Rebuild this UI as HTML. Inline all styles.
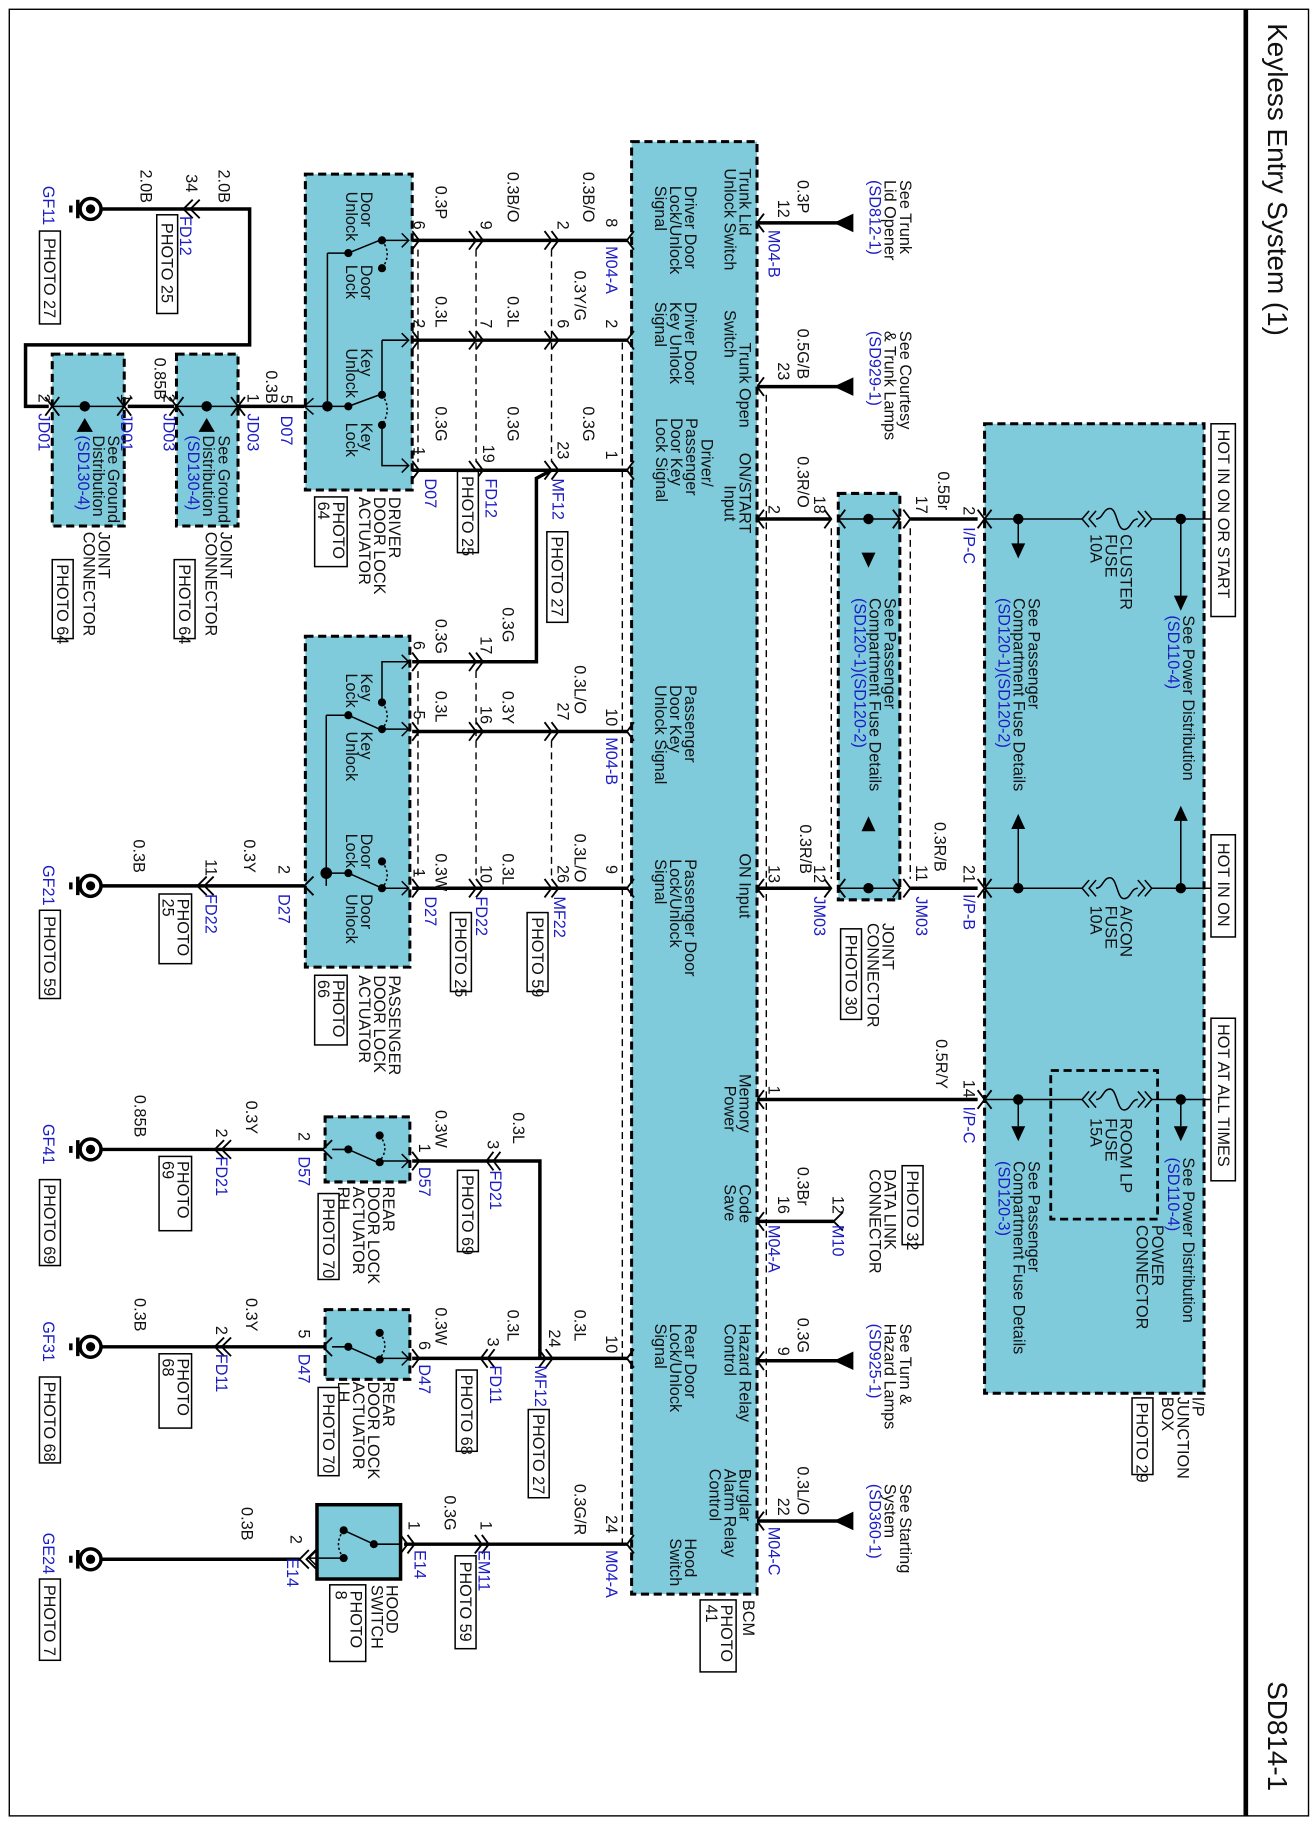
<!DOCTYPE html>
<html><head><meta charset="utf-8"><style>
html,body{margin:0;padding:0;background:#fff}
svg{display:block}
text{font-family:"Liberation Sans",Arial,sans-serif;font-size:14px;fill:#111}
.b{fill:#1c1cc4}
.w{stroke:#000;stroke-width:3;fill:none}
.n{stroke:#000;stroke-width:1.3;fill:none}
.d{stroke:#000;stroke-width:1.2;fill:none;stroke-dasharray:6,4}
.box{fill:#7fcbdc;stroke:#000;stroke-width:2.6;stroke-dasharray:7,4}
.pb{fill:#fff;stroke:#000;stroke-width:1.3}
.ch{stroke:#000;stroke-width:1.6;fill:none}
</style></head><body>
<svg width="1312" height="1824" viewBox="0 0 1130 1571" preserveAspectRatio="none" xmlns="http://www.w3.org/2000/svg">
<rect x="0" y="0" width="1130" height="1571" fill="#fff"/>
<rect x="8" y="8" width="1119" height="1556" fill="none" stroke="#000" stroke-width="1.2"/>
<line x1="1073" y1="8" x2="1073" y2="1564" stroke="#000" stroke-width="4"/>
<text style="font-size:24px" transform="translate(1092,20) rotate(90)">Keyless Entry System (1)</text>
<text style="font-size:24px" transform="translate(1092,1448) rotate(90)">SD814-1</text>

<!-- HOT labels -->
<rect class="pb" x="1043" y="365" width="21" height="166"/>
<text transform="translate(1049,370) rotate(90)">HOT IN ON OR START</text>
<rect class="pb" x="1043" y="719" width="21" height="88"/>
<text transform="translate(1049,726) rotate(90)">HOT IN ON</text>
<rect class="pb" x="1043" y="877" width="21" height="140"/>
<text transform="translate(1049,882) rotate(90)">HOT AT ALL TIMES</text>

<!-- Junction box -->
<rect class="box" x="848" y="365" width="189" height="835"/>
<rect x="905" y="922" width="92" height="128" fill="none" stroke="#000" stroke-width="2.4" stroke-dasharray="7,4"/>
<text transform="translate(1027,1203) rotate(90)">I/P<tspan x="0" dy="13">JUNCTION</tspan><tspan x="0" dy="13">BOX</tspan></text>
<rect class="pb" x="975" y="1204" width="18" height="66"/>
<text transform="translate(979,1208) rotate(90)">PHOTO 29</text>

<!-- rows inside junction -->
<g class="n">
<path d="M848,447H932M992,447H1043"/>
<path d="M848,765H932M992,765H1043"/>
<path d="M848,947H932M992,947H1043"/>
<path d="M938,440L932,447L938,454M944,440L938,447L944,454M986,440L992,447L986,454M980,440L986,447L980,454"/>
<path d="M944,447c6,0 6,-9 12,-9s6,18 12,18s6,-9 12,-9"/>
<path d="M938,758L932,765L938,772M944,758L938,765L944,772M986,758L992,765L986,772M980,758L986,765L980,772"/>
<path d="M944,765c6,0 6,-9 12,-9s6,18 12,18s6,-9 12,-9"/>
<path d="M938,940L932,947L938,954M944,940L938,947L944,954M986,940L992,947L986,954M980,940L986,947L980,954"/>
<path d="M944,947c6,0 6,-9 12,-9s6,18 12,18s6,-9 12,-9"/>
<path d="M877,447V470M1017,447V515M877,765V712M1017,765V705M877,947V970M1017,947V970"/>
<path d="M748,447V478M748,765V714"/>
</g>
<g fill="#000">
<circle cx="877" cy="447" r="4.5"/><circle cx="1017" cy="447" r="4.5"/>
<circle cx="877" cy="765" r="4.5"/><circle cx="1017" cy="765" r="4.5"/>
<circle cx="877" cy="947" r="4.5"/><circle cx="1017" cy="947" r="4.5"/>
<polygon points="871,468 883,468 877,481"/><polygon points="1011,513 1023,513 1017,526"/>
<polygon points="871,714 883,714 877,701"/><polygon points="1011,707 1023,707 1017,694"/>
<polygon points="871,970 883,970 877,983"/><polygon points="1011,970 1023,970 1017,983"/>
</g>
<text transform="translate(965,460) rotate(90)">CLUSTER<tspan x="0" dy="13">FUSE</tspan><tspan x="0" dy="13">10A</tspan></text>
<text transform="translate(965,780) rotate(90)">A/CON<tspan x="0" dy="13">FUSE</tspan><tspan x="0" dy="13">10A</tspan></text>
<text transform="translate(965,963) rotate(90)">ROOM LP<tspan x="0" dy="13">FUSE</tspan><tspan x="0" dy="13">15A</tspan></text>
<text transform="translate(1019,530) rotate(90)">See Power Distribution<tspan x="0" dy="13" class="b">(SD110-4)</tspan></text>
<text transform="translate(886,515) rotate(90)">See Passenger<tspan x="0" dy="13">Compartment Fuse Details</tspan><tspan x="0" dy="13" class="b">(SD120-1)(SD120-2)</tspan></text>
<text transform="translate(1019,997) rotate(90)">See Power Distribution<tspan x="0" dy="13" class="b">(SD110-4)</tspan></text>
<text transform="translate(886,1000) rotate(90)">See Passenger<tspan x="0" dy="13">Compartment Fuse Details</tspan><tspan x="0" dy="13" class="b">(SD120-3)</tspan></text>
<text transform="translate(992,1055) rotate(90)">POWER<tspan x="0" dy="13">CONNECTOR</tspan></text>

<!-- Joint connector JM -->
<rect class="box" x="722" y="425" width="53" height="350"/>
<g fill="#000"><circle cx="748" cy="447" r="4.5"/><circle cx="748" cy="765" r="4.5"/>
<polygon points="742,476 754,476 748,489"/><polygon points="742,716 754,716 748,703"/></g>
<text transform="translate(762,515) rotate(90)">See Passenger<tspan x="0" dy="13">Compartment Fuse Details</tspan><tspan x="0" dy="13" class="b">(SD120-1)(SD120-2)</tspan></text>
<path class="d" d="M716,455V757M784,455V757"/>
<text transform="translate(760,795) rotate(90)">JOINT<tspan x="0" dy="13">CONNECTOR</tspan></text>
<rect class="pb" x="724" y="800" width="18" height="78"/>
<text transform="translate(728,805) rotate(90)">PHOTO 30</text>

<!-- right-side wires of BCM -->
<g class="w">
<path d="M652,192H722M652,333H722M652,447H716M652,765H716M652,947H842M652,1052H718M652,1172H722M652,1310H722"/>
<path d="M784,447H842M784,765H842"/>
</g>
<g class="n"><path d="M722,447H775M722,765H775"/></g>
<g class="ch">
<path d="M658,184L652,192L658,200M658,325L652,333L658,341M658,439L652,447L658,455M658,757L652,765L658,773M658,939L652,947L658,955M658,1044L652,1052L658,1060M658,1164L652,1172L658,1180M658,1302L652,1310L658,1318"/>
<path d="M710,439L716,447L710,455M728,439L722,447L728,455M769,439L775,447L769,455M778,439L784,447L778,455"/>
<path d="M710,757L716,765L710,773M728,757L722,765L728,773M769,757L775,765L769,773M778,757L784,765L778,773"/>
<path d="M854,439L848,447L854,455M842,439L848,447L842,455M854,757L848,765L854,773M842,757L848,765L842,773M854,939L848,947L854,955M842,939L848,947L842,955"/>
<path d="M726,1044L718,1052L726,1060"/>
</g>
<g fill="#000">
<polygon points="718,192 735,184 735,200"/><polygon points="718,333 735,325 735,341"/>
<polygon points="718,1172 735,1164 735,1180"/><polygon points="718,1310 735,1302 735,1318"/>
</g>
<text transform="translate(687,155) rotate(90)">0.3P</text>
<text transform="translate(670,172) rotate(90)">12</text>
<text class="b" transform="translate(662,198) rotate(90)">M04-B</text>
<text transform="translate(775,155) rotate(90)">See Trunk<tspan x="0" dy="13">Lid Opener</tspan><tspan x="0" dy="13" class="b">(SD812-1)</tspan></text>
<text transform="translate(687,283) rotate(90)">0.5G/B</text>
<text transform="translate(670,312) rotate(90)">23</text>
<text transform="translate(775,285) rotate(90)">See Courtesy<tspan x="0" dy="13">&amp; Trunk Lamps</tspan><tspan x="0" dy="13" class="b">(SD929-1)</tspan></text>
<text transform="translate(662,435) rotate(90)">2</text>
<text transform="translate(687,393) rotate(90)">0.3R/O</text>
<text transform="translate(701,427) rotate(90)">18</text>
<text transform="translate(789,427) rotate(90)">17</text>
<text transform="translate(808,406) rotate(90)">0.5Br</text>
<text transform="translate(830,436) rotate(90)">2</text>
<text class="b" transform="translate(830,454) rotate(90)">I/P-C</text>
<text transform="translate(662,745) rotate(90)">13</text>
<text transform="translate(689,710) rotate(90)">0.3R/B</text>
<text transform="translate(701,745) rotate(90)">12</text>
<text class="b" transform="translate(701,772) rotate(90)">JM03</text>
<text transform="translate(789,745) rotate(90)">11</text>
<text transform="translate(805,708) rotate(90)">0.3R/B</text>
<text class="b" transform="translate(789,772) rotate(90)">JM03</text>
<text transform="translate(830,745) rotate(90)">21</text>
<text class="b" transform="translate(830,770) rotate(90)">I/P-B</text>
<text transform="translate(662,935) rotate(90)">1</text>
<text transform="translate(806,895) rotate(90)">0.5R/Y</text>
<text transform="translate(830,930) rotate(90)">14</text>
<text class="b" transform="translate(830,953) rotate(90)">I/P-C</text>
<text transform="translate(687,1005) rotate(90)">0.3Br</text>
<text transform="translate(670,1030) rotate(90)">16</text>
<text class="b" transform="translate(662,1055) rotate(90)">M04-A</text>
<text transform="translate(717,1030) rotate(90)">12</text>
<text class="b" transform="translate(717,1055) rotate(90)">M10</text>
<rect class="pb" x="777" y="1004" width="18" height="68"/>
<text transform="translate(781,1008) rotate(90)">PHOTO 32</text>
<text transform="translate(762,1007) rotate(90)">DATA LINK<tspan x="0" dy="13">CONNECTOR</tspan></text>
<text transform="translate(687,1135) rotate(90)">0.3G</text>
<text transform="translate(670,1160) rotate(90)">9</text>
<text transform="translate(775,1140) rotate(90)">See Turn &amp;<tspan x="0" dy="13">Hazard Lamps</tspan><tspan x="0" dy="13" class="b">(SD925-1)</tspan></text>
<text transform="translate(687,1263) rotate(90)">0.3L/O</text>
<text transform="translate(670,1290) rotate(90)">22</text>
<text class="b" transform="translate(662,1315) rotate(90)">M04-C</text>
<text transform="translate(775,1278) rotate(90)">See Starting<tspan x="0" dy="13">System</tspan><tspan x="0" dy="13" class="b">(SD360-1)</tspan></text>

<!-- BCM -->
<path class="d" d="M660,340V1305M536,295V1330"/>
<rect class="box" x="544" y="122" width="108" height="1251"/>
<text transform="translate(637,145) rotate(90)">Trunk Lid<tspan x="0" dy="13">Unlock Switch</tspan></text>
<text transform="translate(637,295) rotate(90)">Trunk Open<tspan x="-28" dy="13">Switch</tspan></text>
<text transform="translate(637,390) rotate(90)">ON/START<tspan x="28" dy="13">Input</tspan></text>
<text transform="translate(637,735) rotate(90)">ON Input</text>
<text transform="translate(637,925) rotate(90)">Memory<tspan x="10" dy="13">Power</tspan></text>
<text transform="translate(637,1020) rotate(90)">Code<tspan x="0" dy="13">Save</tspan></text>
<text transform="translate(637,1140) rotate(90)">Hazard Relay<tspan x="0" dy="13">Control</tspan></text>
<text transform="translate(637,1265) rotate(90)">Burglar<tspan x="0" dy="13">Alarm Relay</tspan><tspan x="0" dy="13">Control</tspan></text>
<text transform="translate(590,160) rotate(90)">Driver Door<tspan x="0" dy="13">Lock/Unlock</tspan><tspan x="0" dy="13">Signal</tspan></text>
<text transform="translate(590,260) rotate(90)">Driver Door<tspan x="0" dy="13">Key Unlock</tspan><tspan x="0" dy="13">Signal</tspan></text>
<text transform="translate(604,378) rotate(90)">Driver/<tspan x="-18" dy="13">Passenger</tspan><tspan x="-18" dy="13">Door Key</tspan><tspan x="-18" dy="13">Lock Signal</tspan></text>
<text transform="translate(590,590) rotate(90)">Passenger<tspan x="0" dy="13">Door Key</tspan><tspan x="0" dy="13">Unlock Signal</tspan></text>
<text transform="translate(590,740) rotate(90)">Passenger Door<tspan x="0" dy="13">Lock/Unlock</tspan><tspan x="0" dy="13">Signal</tspan></text>
<text transform="translate(590,1140) rotate(90)">Rear Door<tspan x="0" dy="13">Lock/Unlock</tspan><tspan x="0" dy="13">Signal</tspan></text>
<text transform="translate(590,1325) rotate(90)">Hood<tspan x="0" dy="13">Switch</tspan></text>
<text transform="translate(640,1378) rotate(90)">BCM</text>
<rect class="pb" x="603" y="1378" width="31" height="62"/>
<text transform="translate(621,1382) rotate(90)">PHOTO<tspan x="0" dy="13">41</tspan></text>

<!-- left wires of BCM -->
<g class="w">
<path d="M355,207H540M355,293H540M355,405H540"/>
<path d="M475,405L462,412V570H413"/>
<path d="M355,570H413M355,630H540M355,765H540"/>
<path d="M355,1000H425M425,1000H465V1170H470M355,1170H540M348,1330H540"/>
</g>
<path class="d" d="M410,215V398M475,215V398M360,215V398M410,578V758M475,638V758M360,578V758"/>
<g class="ch">
<path d="M546,199L540,207L546,215M546,285L540,293L546,301M546,397L540,405L546,413M546,622L540,630L546,638M546,757L540,765L546,773M546,1162L540,1170L546,1178M546,1322L540,1330L546,1338"/>
<path d="M469,199L475,207L469,215M475,199L481,207L475,215M404,199L410,207L404,215M410,199L416,207L410,215M355,199L361,207L355,215"/>
<path d="M469,285L475,293L469,301M475,285L481,293L475,301M404,285L410,293L404,301M410,285L416,293L410,301M355,285L361,293L355,301"/>
<path d="M469,397L475,405L469,413M475,397L481,405L475,413M404,397L410,405L404,413M410,397L416,405L410,413M355,397L361,405L355,413"/>
<path d="M404,562L410,570L404,578M410,562L416,570L410,578M355,562L361,570L355,578"/>
<path d="M469,622L475,630L469,638M475,622L481,630L475,638M404,622L410,630L404,638M410,622L416,630L410,638M355,622L361,630L355,638"/>
<path d="M469,757L475,765L469,773M475,757L481,765L475,773M404,757L410,765L404,773M410,757L416,765L410,773M355,757L361,765L355,773"/>
<path d="M355,992L361,1000L355,1008M431,992L425,1000L431,1008M425,992L419,1000L425,1008"/>
<path d="M355,1162L361,1170L355,1178M426,1162L420,1170L426,1178M420,1162L414,1170L420,1178M464,1162L470,1170L464,1178M470,1162L476,1170L470,1178"/>
<path d="M345,1322L351,1330L345,1338M351,1322L357,1330L351,1338M409,1322L415,1330L409,1338M415,1322L421,1330L415,1338"/>
</g>
<text transform="translate(522,188) rotate(90)">8</text>
<text class="b" transform="translate(522,212) rotate(90)">M04-A</text>
<text transform="translate(502,148) rotate(90)">0.3B/O</text>
<text transform="translate(480,190) rotate(90)">2</text>
<text transform="translate(437,148) rotate(90)">0.3B/O</text>
<text transform="translate(414,190) rotate(90)">9</text>
<text transform="translate(375,160) rotate(90)">0.3P</text>
<text transform="translate(356,190) rotate(90)">6</text>
<text transform="translate(522,275) rotate(90)">2</text>
<text transform="translate(495,233) rotate(90)">0.3Y/G</text>
<text transform="translate(480,275) rotate(90)">6</text>
<text transform="translate(437,255) rotate(90)">0.3L</text>
<text transform="translate(414,275) rotate(90)">7</text>
<text transform="translate(375,255) rotate(90)">0.3L</text>
<text transform="translate(356,275) rotate(90)">2</text>
<text transform="translate(522,388) rotate(90)">1</text>
<text transform="translate(502,350) rotate(90)">0.3G</text>
<text transform="translate(480,380) rotate(90)">23</text>
<text class="b" transform="translate(476,412) rotate(90)">MF12</text>
<rect class="pb" x="471" y="458" width="18" height="78"/>
<text transform="translate(475,462) rotate(90)">PHOTO 27</text>
<text transform="translate(437,350) rotate(90)">0.3G</text>
<text transform="translate(416,383) rotate(90)">19</text>
<text class="b" transform="translate(418,412) rotate(90)">FD12</text>
<rect class="pb" x="394" y="406" width="18" height="70"/>
<text transform="translate(398,410) rotate(90)">PHOTO 25</text>
<text transform="translate(375,350) rotate(90)">0.3G</text>
<text transform="translate(356,385) rotate(90)">1</text>
<text class="b" transform="translate(366,412) rotate(90)">D07</text>
<text transform="translate(433,523) rotate(90)">0.3G</text>
<text transform="translate(414,548) rotate(90)">17</text>
<text transform="translate(375,533) rotate(90)">0.3G</text>
<text transform="translate(356,552) rotate(90)">6</text>
<text transform="translate(522,610) rotate(90)">10</text>
<text class="b" transform="translate(522,635) rotate(90)">M04-B</text>
<text transform="translate(495,573) rotate(90)">0.3L/O</text>
<text transform="translate(480,605) rotate(90)">27</text>
<text transform="translate(433,595) rotate(90)">0.3Y</text>
<text transform="translate(414,608) rotate(90)">16</text>
<text transform="translate(375,595) rotate(90)">0.3L</text>
<text transform="translate(356,612) rotate(90)">5</text>
<text transform="translate(522,745) rotate(90)">9</text>
<text transform="translate(495,718) rotate(90)">0.3L/O</text>
<text transform="translate(480,745) rotate(90)">26</text>
<text class="b" transform="translate(477,772) rotate(90)">MF22</text>
<rect class="pb" x="454" y="786" width="18" height="68"/>
<text transform="translate(458,790) rotate(90)">PHOTO 59</text>
<text transform="translate(433,735) rotate(90)">0.3L</text>
<text transform="translate(414,745) rotate(90)">10</text>
<text class="b" transform="translate(410,772) rotate(90)">FD22</text>
<rect class="pb" x="388" y="786" width="18" height="68"/>
<text transform="translate(392,790) rotate(90)">PHOTO 25</text>
<text transform="translate(375,735) rotate(90)">0.3W</text>
<text transform="translate(356,748) rotate(90)">1</text>
<text class="b" transform="translate(366,772) rotate(90)">D27</text>

<!-- Driver door lock actuator -->
<rect class="box" x="263" y="150" width="92" height="272"/>
<g class="n">
<path d="M282,218V350M282,218H300M300,218L327,207M329,207H352M346,201L352,207L346,213"/>
<path d="M300,350L327,340M329,293V340M329,293H352M346,287L352,293L346,299M329,366V401H352M346,395L352,401L346,407"/>
<path d="M329,207q9,12 0,24M329,340q9,12 0,26" stroke-dasharray="2,2"/>
<path d="M262,350H300M270,343L262,350L270,357"/>
</g>
<g fill="#000"><circle cx="300" cy="218" r="3.5"/><circle cx="329" cy="207" r="3.5"/><circle cx="329" cy="231" r="3.5"/>
<circle cx="282" cy="350" r="4.5"/><circle cx="300" cy="350" r="3.5"/><circle cx="329" cy="340" r="3.5"/><circle cx="329" cy="366" r="3.5"/></g>
<text transform="translate(311,165) rotate(90)">Door<tspan x="0" dy="13">Unlock</tspan></text>
<text transform="translate(311,228) rotate(90)">Door<tspan x="0" dy="13">Lock</tspan></text>
<text transform="translate(311,300) rotate(90)">Key<tspan x="0" dy="13">Unlock</tspan></text>
<text transform="translate(311,364) rotate(90)">Key<tspan x="0" dy="13">Lock</tspan></text>
<text transform="translate(335,428) rotate(90)">DRIVER<tspan x="0" dy="13">DOOR LOCK</tspan><tspan x="0" dy="13">ACTUATOR</tspan></text>
<rect class="pb" x="271" y="428" width="28" height="60"/>
<text transform="translate(287,432) rotate(90)">PHOTO<tspan x="0" dy="13">64</tspan></text>

<!-- Joint connectors JD03/JD01 and ground GF11 -->
<g class="w"><path d="M262,350H205M150,350H110M42,350H22V297H215V180H160M160,180H87"/></g>
<rect class="box" x="152" y="305" width="53" height="148"/>
<rect class="box" x="45" y="305" width="62" height="148"/>
<g class="n"><path d="M152,350H205M45,350H107"/></g>
<g class="ch"><path d="M211,342L205,350L211,358M158,342L152,350L158,358M146,342L152,350L146,358M199,342L205,350L199,358M113,342L107,350L113,358M51,342L45,350L51,358M39,342L45,350L39,358M101,342L107,350L101,358"/>
<path d="M166,172L158,180L166,188M172,172L164,180L172,188"/></g>
<g fill="#000"><circle cx="178" cy="350" r="4.5"/><polygon points="178,360 171,372 185,372"/><circle cx="73" cy="350" r="4.5"/><polygon points="73,360 66,372 80,372"/></g>
<text transform="translate(188,375) rotate(90)">See Ground<tspan x="0" dy="13">Distribution</tspan><tspan x="0" dy="13" class="b">(SD130-4)</tspan></text>
<text transform="translate(93,375) rotate(90)">See Ground<tspan x="0" dy="13">Distribution</tspan><tspan x="0" dy="13" class="b">(SD130-4)</tspan></text>
<text transform="translate(229,319) rotate(90)">0.3B</text>
<text transform="translate(213,339) rotate(90)">1</text>
<text class="b" transform="translate(213,356) rotate(90)">JD03</text>
<text transform="translate(242,340) rotate(90)">5</text>
<text class="b" transform="translate(242,358) rotate(90)">D07</text>
<text transform="translate(141,339) rotate(90)">2</text>
<text class="b" transform="translate(141,356) rotate(90)">JD03</text>
<text transform="translate(133,308) rotate(90)">0.85B</text>
<text transform="translate(104,339) rotate(90)">1</text>
<text class="b" transform="translate(104,356) rotate(90)">JD01</text>
<text transform="translate(33,339) rotate(90)">2</text>
<text class="b" transform="translate(33,356) rotate(90)">JD01</text>
<text transform="translate(190,458) rotate(90)">JOINT<tspan x="0" dy="13">CONNECTOR</tspan></text>
<rect class="pb" x="150" y="482" width="18" height="68"/>
<text transform="translate(154,486) rotate(90)">PHOTO 64</text>
<text transform="translate(85,458) rotate(90)">JOINT<tspan x="0" dy="13">CONNECTOR</tspan></text>
<rect class="pb" x="45" y="482" width="18" height="68"/>
<text transform="translate(49,486) rotate(90)">PHOTO 64</text>

<!-- ground symbols -->
<g>
<circle cx="78" cy="180" r="9" fill="#fff" stroke="#000" stroke-width="3"/><circle cx="78" cy="180" r="4" fill="#000"/>
<circle cx="78" cy="763" r="9" fill="#fff" stroke="#000" stroke-width="3"/><circle cx="78" cy="763" r="4" fill="#000"/>
<circle cx="78" cy="990" r="9" fill="#fff" stroke="#000" stroke-width="3"/><circle cx="78" cy="990" r="4" fill="#000"/>
<circle cx="78" cy="1160" r="9" fill="#fff" stroke="#000" stroke-width="3"/><circle cx="78" cy="1160" r="4" fill="#000"/>
<circle cx="78" cy="1343" r="9" fill="#fff" stroke="#000" stroke-width="3"/><circle cx="78" cy="1343" r="4" fill="#000"/>
<path stroke="#000" stroke-width="3" d="M67,172V188M61,177V183M67,755V771M61,760V766M67,982V998M61,987V993M67,1152V1168M61,1157V1163M67,1335V1351M61,1340V1346"/>
</g>
<text transform="translate(121,146) rotate(90)">2.0B</text>
<text transform="translate(160,150) rotate(90)">34</text>
<text transform="translate(188,146) rotate(90)">2.0B</text>
<text class="b" transform="translate(155,186) rotate(90)">FD12</text>
<rect class="pb" x="135" y="185" width="18" height="85"/>
<text transform="translate(139,192) rotate(90)">PHOTO 25</text>
<text class="b" transform="translate(37,160) rotate(90)">GF11</text>
<rect class="pb" x="34" y="199" width="18" height="80"/>
<text transform="translate(38,205) rotate(90)">PHOTO 27</text>

<!-- Passenger actuator -->
<rect class="box" x="263" y="548" width="90" height="285"/>
<g class="n">
<path d="M281,616V763M281,616H300M300,616L327,628M329,605V570H352M346,564L352,570L346,576M329,628H352M346,622L352,628L346,634"/>
<path d="M281,752H300M300,752L327,764M329,765H352M346,759L352,765L346,771"/>
<path d="M329,605q9,12 0,23M329,742q9,12 0,23" stroke-dasharray="2,2"/>
</g>
<g fill="#000"><circle cx="300" cy="616" r="3.5"/><circle cx="329" cy="605" r="3.5"/><circle cx="329" cy="628" r="3.5"/>
<circle cx="281" cy="752" r="5"/><circle cx="300" cy="752" r="3.5"/><circle cx="329" cy="742" r="3.5"/><circle cx="329" cy="765" r="3.5"/></g>
<text transform="translate(311,580) rotate(90)">Key<tspan x="0" dy="13">Lock</tspan></text>
<text transform="translate(311,630) rotate(90)">Key<tspan x="0" dy="13">Unlock</tspan></text>
<text transform="translate(311,718) rotate(90)">Door<tspan x="0" dy="13">Lock</tspan></text>
<text transform="translate(311,770) rotate(90)">Door<tspan x="0" dy="13">Unlock</tspan></text>
<text transform="translate(335,840) rotate(90)">PASSENGER<tspan x="0" dy="13">DOOR LOCK</tspan><tspan x="0" dy="13">ACTUATOR</tspan></text>
<rect class="pb" x="271" y="840" width="28" height="60"/>
<text transform="translate(287,844) rotate(90)">PHOTO<tspan x="0" dy="13">66</tspan></text>
<g class="w"><path d="M262,763H87"/></g>
<g class="ch"><path d="M270,755L262,763L270,771M178,755L170,763L178,771M184,755L176,763L184,771"/></g>
<text transform="translate(240,745) rotate(90)">2</text>
<text class="b" transform="translate(240,770) rotate(90)">D27</text>
<text transform="translate(210,723) rotate(90)">0.3Y</text>
<text transform="translate(177,740) rotate(90)">11</text>
<text class="b" transform="translate(177,770) rotate(90)">FD22</text>
<rect class="pb" x="137" y="770" width="28" height="60"/>
<text transform="translate(153,774) rotate(90)">PHOTO<tspan x="0" dy="13">25</tspan></text>
<text transform="translate(115,723) rotate(90)">0.3B</text>
<text class="b" transform="translate(37,745) rotate(90)">GF21</text>
<rect class="pb" x="34" y="784" width="18" height="76"/>
<text transform="translate(38,789) rotate(90)">PHOTO 59</text>

<!-- Rear RH -->
<rect class="box" x="280" y="962" width="73" height="56"/>
<g class="n"><path d="M286,990H300M300,990L327,1002M327,1000H352M346,994L352,1000L346,1006"/></g>
<path class="n" d="M327,978q9,11 0,22" stroke-dasharray="2,2"/>
<g fill="#000"><circle cx="300" cy="990" r="3.5"/><circle cx="327" cy="978" r="3.5"/><circle cx="327" cy="1001" r="3.5"/></g>
<g class="w"><path d="M278,990H87"/></g>
<g class="ch"><path d="M286,982L278,990L286,998M193,982L185,990L193,998M199,982L191,990L199,998"/></g>
<text transform="translate(257,975) rotate(90)">2</text>
<text class="b" transform="translate(257,996) rotate(90)">D57</text>
<text transform="translate(212,948) rotate(90)">0.3Y</text>
<text transform="translate(186,972) rotate(90)">2</text>
<text class="b" transform="translate(186,996) rotate(90)">FD21</text>
<rect class="pb" x="137" y="996" width="28" height="64"/>
<text transform="translate(153,1000) rotate(90)">PHOTO<tspan x="0" dy="13">69</tspan></text>
<text transform="translate(116,943) rotate(90)">0.85B</text>
<text class="b" transform="translate(37,968) rotate(90)">GF41</text>
<rect class="pb" x="34" y="1016" width="18" height="74"/>
<text transform="translate(38,1020) rotate(90)">PHOTO 69</text>
<text transform="translate(375,956) rotate(90)">0.3W</text>
<text transform="translate(361,985) rotate(90)">1</text>
<text class="b" transform="translate(361,1005) rotate(90)">D57</text>
<text transform="translate(420,982) rotate(90)">3</text>
<text transform="translate(442,958) rotate(90)">0.3L</text>
<text class="b" transform="translate(422,1008) rotate(90)">FD21</text>
<rect class="pb" x="394" y="1008" width="18" height="70"/>
<text transform="translate(398,1012) rotate(90)">PHOTO 69</text>
<text transform="translate(330,1022) rotate(90)">REAR<tspan x="0" dy="13">DOOR LOCK</tspan><tspan x="0" dy="13">ACTUATOR</tspan><tspan x="0" dy="13">RH</tspan></text>
<rect class="pb" x="274" y="1028" width="18" height="74"/>
<text transform="translate(278,1032) rotate(90)">PHOTO 70</text>

<!-- Rear LH -->
<rect class="box" x="280" y="1128" width="73" height="60"/>
<g class="n"><path d="M286,1160H300M300,1160L327,1172M327,1170H352M346,1164L352,1170L346,1176"/></g>
<path class="n" d="M327,1148q9,11 0,22" stroke-dasharray="2,2"/>
<g fill="#000"><circle cx="300" cy="1160" r="3.5"/><circle cx="327" cy="1148" r="3.5"/><circle cx="327" cy="1171" r="3.5"/></g>
<g class="w"><path d="M278,1160H87"/></g>
<g class="ch"><path d="M286,1152L278,1160L286,1168M193,1152L185,1160L193,1168M199,1152L191,1160L199,1168"/></g>
<text transform="translate(257,1145) rotate(90)">5</text>
<text class="b" transform="translate(257,1166) rotate(90)">D47</text>
<text transform="translate(212,1118) rotate(90)">0.3Y</text>
<text transform="translate(186,1142) rotate(90)">2</text>
<text class="b" transform="translate(186,1166) rotate(90)">FD11</text>
<rect class="pb" x="137" y="1166" width="28" height="64"/>
<text transform="translate(153,1170) rotate(90)">PHOTO<tspan x="0" dy="13">68</tspan></text>
<text transform="translate(116,1118) rotate(90)">0.3B</text>
<text class="b" transform="translate(37,1138) rotate(90)">GF31</text>
<rect class="pb" x="34" y="1186" width="18" height="74"/>
<text transform="translate(38,1190) rotate(90)">PHOTO 68</text>
<text transform="translate(375,1126) rotate(90)">0.3W</text>
<text transform="translate(361,1155) rotate(90)">6</text>
<text class="b" transform="translate(361,1175) rotate(90)">D47</text>
<text transform="translate(420,1152) rotate(90)">3</text>
<text transform="translate(437,1128) rotate(90)">0.3L</text>
<text class="b" transform="translate(422,1176) rotate(90)">FD11</text>
<rect class="pb" x="393" y="1180" width="18" height="70"/>
<text transform="translate(397,1184) rotate(90)">PHOTO 68</text>
<text transform="translate(473,1145) rotate(90)">24</text>
<text transform="translate(495,1128) rotate(90)">0.3L</text>
<text class="b" transform="translate(461,1176) rotate(90)">MF12</text>
<rect class="pb" x="455" y="1214" width="18" height="76"/>
<text transform="translate(459,1218) rotate(90)">PHOTO 27</text>
<text transform="translate(522,1150) rotate(90)">10</text>
<text transform="translate(330,1190) rotate(90)">REAR<tspan x="0" dy="13">DOOR LOCK</tspan><tspan x="0" dy="13">ACTUATOR</tspan><tspan x="0" dy="13">LH</tspan></text>
<rect class="pb" x="274" y="1195" width="18" height="76"/>
<text transform="translate(278,1200) rotate(90)">PHOTO 70</text>

<!-- Hood switch -->
<rect x="273" y="1296" width="72" height="64" fill="#7fcbdc" stroke="#000" stroke-width="3"/>
<g class="n"><path d="M345,1330H322M322,1330L296,1318M296,1342H266M272,1336L266,1342L272,1348"/></g>
<path class="n" d="M296,1318q-9,12 0,24" stroke-dasharray="2,2"/>
<g fill="#000"><circle cx="322" cy="1330" r="3.5"/><circle cx="296" cy="1318" r="3.5"/><circle cx="296" cy="1342" r="3.5"/></g>
<g class="w"><path d="M258,1343H87"/></g>
<g class="ch"><path d="M266,1335L258,1343L266,1351M272,1335L264,1343L272,1351"/></g>
<text transform="translate(522,1305) rotate(90)">24</text>
<text class="b" transform="translate(522,1335) rotate(90)">M04-A</text>
<text transform="translate(495,1278) rotate(90)">0.3G/R</text>
<text transform="translate(414,1310) rotate(90)">1</text>
<text class="b" transform="translate(412,1335) rotate(90)">EM11</text>
<rect class="pb" x="392" y="1340" width="18" height="80"/>
<text transform="translate(396,1345) rotate(90)">PHOTO 59</text>
<text transform="translate(383,1288) rotate(90)">0.3G</text>
<text transform="translate(352,1310) rotate(90)">1</text>
<text class="b" transform="translate(357,1335) rotate(90)">E14</text>
<text transform="translate(250,1322) rotate(90)">2</text>
<text class="b" transform="translate(247,1342) rotate(90)">E14</text>
<text transform="translate(208,1298) rotate(90)">0.3B</text>
<text transform="translate(333,1365) rotate(90)">HOOD<tspan x="0" dy="13">SWITCH</tspan></text>
<rect class="pb" x="284" y="1365" width="31" height="66"/>
<text transform="translate(302,1370) rotate(90)">PHOTO<tspan x="0" dy="13">8</tspan></text>
<text class="b" transform="translate(37,1320) rotate(90)">GE24</text>
<rect class="pb" x="34" y="1360" width="18" height="70"/>
<text transform="translate(38,1365) rotate(90)">PHOTO 7</text>
</svg>
</body></html>
